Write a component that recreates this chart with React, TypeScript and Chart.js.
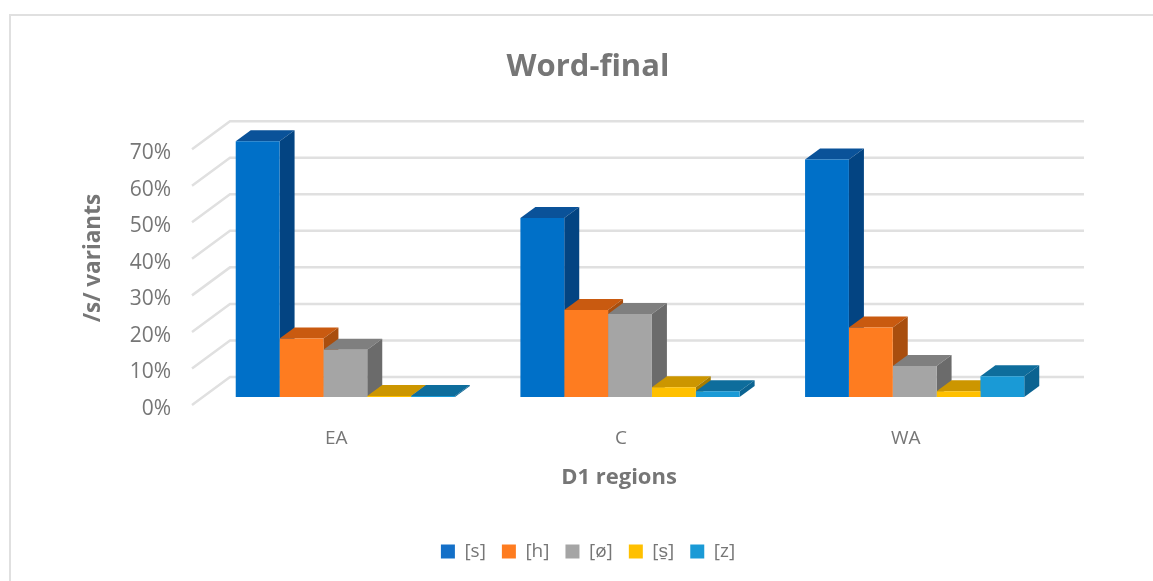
import React, { useEffect, useRef } from "react";
import { Chart, registerables } from "chart.js";

Chart.register(...registerables);

const categories = ["EA", "C", "WA"];
const seriesS = [70, 49, 65];
const seriesH = [16, 23.8, 19];
const seriesZero = [12.9, 22.7, 8.5];
const seriesRetracted = [0.3, 2.7, 1.6];
const seriesZ = [0.3, 1.6, 5.7];
const seriesNames = ["[s]", "[h]", "[ø]", "[s̱]", "[z]"];
const tickValues = [0, 10, 20, 30, 40, 50, 60, 70];

const frontColors = ["#0070c8", "#fe7c20", "#a5a5a5", "#ffc000", "#1a9ad6"];
const topColors = ["#0a5299", "#c95a10", "#7f7f7f", "#cc9600", "#0e6d9c"];
const sideColors = ["#034482", "#a94e0e", "#6b6b6b", "#a67c00", "#0b6391"];
const legendColors = ["#1470c8", "#fe7c20", "#a5a5a5", "#ffc000", "#1a9ad6"];

const FLOOR_DX = 38, FLOOR_DY = 28;
const BAR_DX = 11, BAR_DY = 8;
const DEPTH_DX = 15, DEPTH_DY = 11;
const Y_TITLE_SHIFT = -19;
const GRID = "#e0e0e0";
const TEXT = "#767676";
const FONT = "'Open Sans', sans-serif";

const box3d = {
  id: "box3d",
  afterLayout(chart: any) {
    const s = chart.scales.y;
    if (s.__wrapped) return;
    s.__wrapped = true;
    const orig = s.drawTitle.bind(s);
    s.drawTitle = () => {
      s.ctx.save();
      s.ctx.translate(0, Y_TITLE_SHIFT);
      orig();
      s.ctx.restore();
    };
  },
  beforeDatasetsDraw(chart: any) {
    const { ctx, chartArea: a, scales } = chart;
    const y = scales.y;
    ctx.save();
    ctx.strokeStyle = GRID;
    ctx.lineWidth = 2.5;
    for (const v of tickValues) {
      const p = y.getPixelForValue(v);
      ctx.beginPath();
      ctx.moveTo(a.left, p);
      ctx.lineTo(a.left + FLOOR_DX, p - FLOOR_DY);
      ctx.lineTo(a.right + FLOOR_DX, p - FLOOR_DY);
      ctx.stroke();
    }
    ctx.restore();
    ctx.save();
    ctx.translate(BAR_DX, -BAR_DY);
    chart.data.datasets.forEach((_: any, i: number) => {
      chart.getDatasetMeta(i).data.forEach((bar: any) => {
        const l = bar.x - bar.width / 2, r = bar.x + bar.width / 2;
        const t = bar.y, b = bar.base;
        ctx.fillStyle = topColors[i];
        ctx.beginPath();
        ctx.moveTo(l, t);
        ctx.lineTo(l + DEPTH_DX, t - DEPTH_DY);
        ctx.lineTo(r + DEPTH_DX, t - DEPTH_DY);
        ctx.lineTo(r, t);
        ctx.closePath();
        ctx.fill();
        ctx.fillStyle = sideColors[i];
        ctx.beginPath();
        ctx.moveTo(r, t);
        ctx.lineTo(r + DEPTH_DX, t - DEPTH_DY);
        ctx.lineTo(r + DEPTH_DX, b - DEPTH_DY);
        ctx.lineTo(r, b);
        ctx.closePath();
        ctx.fill();
      });
    });
    ctx.restore();
    ctx.save();
    ctx.translate(BAR_DX, -BAR_DY);
  },
  afterDatasetsDraw(chart: any) {
    chart.ctx.restore();
  },
};

const allSeries = [seriesS, seriesH, seriesZero, seriesRetracted, seriesZ];

export default function App() {
  const ref = useRef<HTMLCanvasElement>(null);
  useEffect(() => {
    const chart = new Chart(ref.current!, {
      type: "bar",
      data: {
        labels: categories,
        datasets: allSeries.map((values, i) => ({
          label: seriesNames[i],
          data: values,
          backgroundColor: frontColors[i],
          borderWidth: 0,
          clip: false as any,
          categoryPercentage: 0.77,
          barPercentage: 1,
        })),
      },
      options: {
        animation: false,
        responsive: false,
        layout: { padding: { left: 23, right: 0, top: 0, bottom: 10 } },
        plugins: {
          tooltip: { enabled: false },
          title: {
            display: true,
            text: "Word-final",
            color: TEXT,
            font: { family: FONT, size: 31, weight: "bold", lineHeight: 1.2 },
            padding: { top: 49, bottom: 63 },
          },
          legend: {
            position: "bottom",
            labels: {
              generateLabels: () =>
                seriesNames.map((text, i) => ({
                  text,
                  fillStyle: legendColors[i],
                  strokeStyle: legendColors[i],
                  lineWidth: 0,
                  fontColor: TEXT,
                  datasetIndex: i,
                  hidden: false,
                })),
              boxWidth: 14,
              boxHeight: 14,
              color: TEXT,
              padding: 16,
              font: { family: FONT, size: 19 },
            },
          },
        },
        scales: {
          x: {
            grid: { display: false },
            border: { display: false },
            ticks: { color: TEXT, font: { family: FONT, size: 19 }, padding: 14, labelOffset: 2 },
            title: {
              display: true,
              text: "D1 regions",
              color: TEXT,
              font: { family: FONT, size: 22, weight: "bold" },
              padding: { top: 0, bottom: 35 },
            },
            afterFit: (s: any) => {
              s.height = 121;
            },
          },
          y: {
            min: 0,
            max: 70,
            grid: { display: false },
            border: { display: false },
            afterBuildTicks: (s: any) => {
              s.ticks = tickValues.map((value) => ({ value }));
            },
            ticks: {
              color: TEXT,
              font: { family: FONT, size: 21 },
              padding: 13,
              labelOffset: 4,
              callback: (v: any) => v + "%",
            },
            title: {
              display: true,
              text: "/s/ variants",
              color: TEXT,
              font: { family: FONT, size: 22.5, weight: "bold" },
              padding: { top: 57, bottom: 0 },
            },
            afterFit: (s: any) => {
              s.width = 169;
            },
          },
          spacer: {
            type: "linear",
            position: "right",
            display: true,
            grid: { display: false },
            border: { display: false },
            ticks: { display: false },
            afterFit: (s: any) => {
              s.width = 107;
            },
          },
        },
      },
      plugins: [box3d],
    } as any);
    return () => chart.destroy();
  }, []);
  return (
    <div style={{ position: "fixed", left: 0, top: 0, width: 1153, height: 581, background: "#fff", overflow: "hidden" }}>
      <div
        style={{
          position: "absolute",
          left: 9,
          top: 14,
          width: 1200,
          height: 700,
          border: "2px solid #e0e0e0",
          boxSizing: "border-box",
        }}
      />
      <canvas ref={ref} width={1153} height={581} style={{ position: "absolute", left: 0, top: 0, display: "block" }} />
    </div>
  );
}
